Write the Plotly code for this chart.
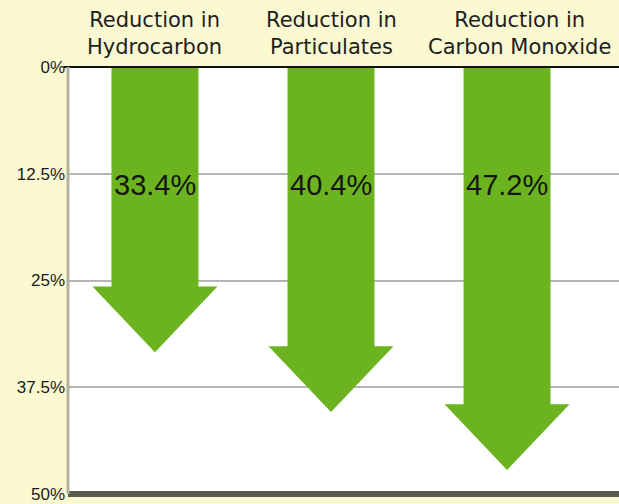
import plotly.graph_objects as go

categories = ["Reduction in<br>Hydrocarbon", "Reduction in<br>Particulates", "Reduction in<br>Carbon Monoxide"]
reductions = [33.4, 40.4, 47.2]
value_labels = ["33.4%", "40.4%", "47.2%"]
tick_vals = [0, 12.5, 25, 37.5, 50]
tick_text = ["0%", "12.5%", "25%", "37.5%", "50%"]

GREEN = "#6BB41F"
BG = "#FBF9D2"
SHAFT_HALF = 0.247
HEAD_HALF = 0.355
HEAD_LEN = 7.7
LABEL_Y = 13.8
TITLE_XSHIFT = [0, 0, 12]

fig = go.Figure()

for i, v in enumerate(reductions):
    hs = v - HEAD_LEN
    xs = [i - SHAFT_HALF, i + SHAFT_HALF, i + SHAFT_HALF, i + HEAD_HALF, i,
          i - HEAD_HALF, i - SHAFT_HALF, i - SHAFT_HALF]
    ys = [0, 0, hs, hs, v, hs, hs, 0]
    fig.add_trace(go.Scatter(x=xs, y=ys, mode="lines", fill="toself",
                             fillcolor=GREEN, line=dict(width=0, color=GREEN),
                             hoverinfo="skip", showlegend=False))
    fig.add_annotation(x=i, y=LABEL_Y, xref="x", yref="y", text=value_labels[i],
                       showarrow=False,
                       font=dict(family="Liberation Sans, Arial", size=29, color="#151515"))
    fig.add_annotation(x=i, y=1.078, xref="x", yref="paper", text=categories[i],
                       showarrow=False, yanchor="middle", xshift=TITLE_XSHIFT[i],
                       font=dict(family="DejaVu Sans", size=21, color="#1e1e1e"))

# top black line, bottom thick line, left shadow edge
fig.add_shape(type="line", xref="paper", yref="paper", x0=-0.008, x1=1, y0=1, y1=1,
              line=dict(color="#111111", width=2))
fig.add_shape(type="line", xref="paper", yref="paper", x0=0, x1=1, y0=0.0, y1=0.0,
              line=dict(color="#5c5b50", width=6))
fig.add_shape(type="line", xref="paper", yref="paper", x0=0, x1=0, y0=0, y1=1,
              line=dict(color="#b4b3a0", width=3))

fig.update_layout(
    width=619, height=504,
    margin=dict(l=68, r=0, t=67, b=10),
    paper_bgcolor=BG, plot_bgcolor="white",
    xaxis=dict(range=[-0.494, 2.636], showgrid=False, zeroline=False,
               showticklabels=False, fixedrange=True),
    yaxis=dict(range=[50, 0], tickvals=tick_vals, ticktext=tick_text,
               showgrid=True, gridcolor="#b5b5b5", gridwidth=2, zeroline=False,
               ticks="", ticklabelstandoff=2,
               tickfont=dict(family="Liberation Sans, Arial", size=17, color="#1a1a1a")),
)

fig.write_html("out.html", config={"displayModeBar": False},
               post_script="document.body.style.margin='0';document.body.style.overflow='hidden';")
